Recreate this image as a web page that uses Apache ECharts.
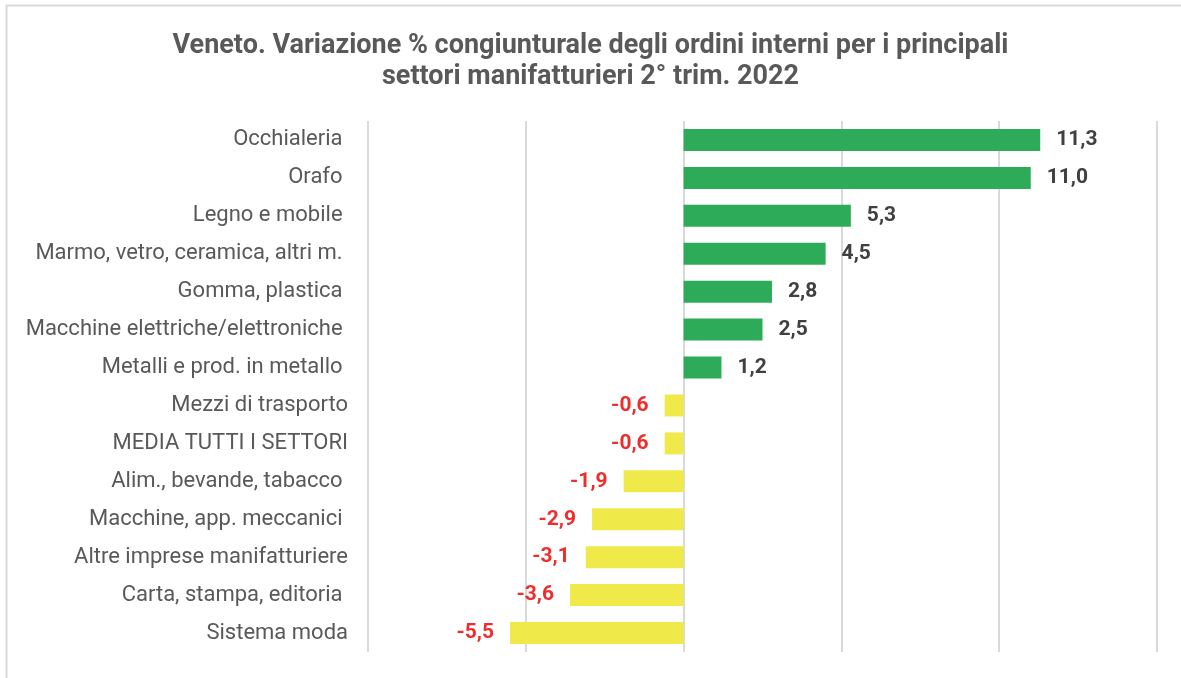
<!DOCTYPE html>
<html>
<head>
<meta charset="utf-8">
<script src="https://cdn.jsdelivr.net/npm/echarts@6/dist/echarts.min.js"></script>
<style>
  html, body { margin: 0; padding: 0; background: #fff; }
  #chart { width: 1181px; height: 678px; }
</style>
</head>
<body>
<div id="chart"></div>
<script>
const categories = [
  'Occhialeria ',
  'Orafo ',
  'Legno e mobile ',
  'Marmo, vetro, ceramica, altri m. ',
  'Gomma, plastica ',
  'Macchine elettriche/elettroniche ',
  'Metalli e prod. in metallo ',
  'Mezzi di trasporto',
  'MEDIA TUTTI I SETTORI',
  'Alim., bevande, tabacco ',
  'Macchine, app. meccanici ',
  'Altre imprese manifatturiere',
  'Carta, stampa, editoria ',
  'Sistema moda'
]
const values = [11.3, 11.0, 5.3, 4.5, 2.8, 2.5, 1.2, -0.6, -0.6, -1.9, -2.9, -3.1, -3.6, -5.5]

const fontFamily = 'Roboto, sans-serif'
const chart = echarts.init(document.getElementById('chart'))

chart.setOption({
  animation: false,
  title: {
    text: 'Veneto. Variazione % congiunturale degli ordini interni per i principali\nsettori manifatturieri 2° trim. 2022',
    left: 'center',
    top: 26,
    textStyle: { color: '#595959', fontSize: 27, fontWeight: 'bold', fontFamily, lineHeight: 31 }
  },
  grid: { left: 368, right: 24, top: 121, bottom: 26 },
  xAxis: {
    type: 'value',
    min: -10, max: 15, interval: 5,
    axisLine: { show: false },
    axisTick: { show: false },
    axisLabel: { show: false },
    splitLine: { lineStyle: { color: '#d9d9d9', width: 2 } }
  },
  yAxis: {
    type: 'category',
    inverse: true,
    data: categories,
    axisLine: { show: false },
    axisTick: { show: false },
    axisLabel: { color: '#595959', fontSize: 22, fontFamily, margin: 20, padding: [5, 0, 0, 0] }
  },
  series: [{
    type: 'bar',
    barWidth: 22,
    data: values.map(v => ({
      value: v,
      itemStyle: { color: v >= 0 ? '#2eab58' : '#f0e94a' },
      label: {
        show: true,
        position: v >= 0 ? 'right' : 'left',
        distance: 16,
        color: v >= 0 ? '#404040' : '#ee2e2e',
        fontSize: 21,
        fontWeight: 'bold',
        fontFamily,
        padding: [4, 0, 0, 0],
        formatter: () => v.toFixed(1).replace('.', ',')
      }
    }))
  }],
  graphic: [{
    type: 'rect',
    shape: { x: 6.5, y: 5.5, width: 1200, height: 700 },
    style: { fill: 'none', stroke: '#d9d9d9', lineWidth: 2 },
    silent: true
  }]
})
</script>
</body>
</html>
